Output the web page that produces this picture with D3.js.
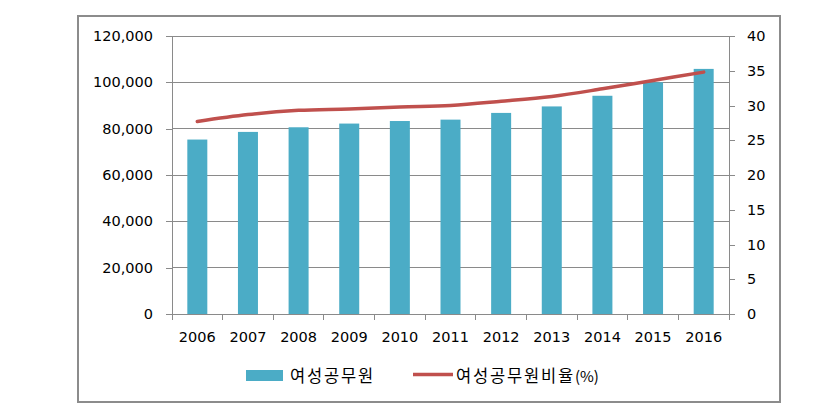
<!DOCTYPE html>
<html><head><meta charset="utf-8">
<script src="https://cdn.jsdelivr.net/npm/d3@7"></script>
<style>body{margin:0;background:#fff}svg{display:block}</style>
</head><body>
<svg id="c" width="837" height="408"></svg>
<script>
const years = ["2006","2007","2008","2009","2010","2011","2012","2013","2014","2015","2016"];
const counts = [75300, 78600, 80600, 82200, 83300, 83900, 86800, 89600, 94200, 100000, 105800];
const ratios = [27.7, 28.7, 29.3, 29.5, 29.8, 30.0, 30.6, 31.3, 32.4, 33.6, 34.8];
const leftTicks = [0, 20000, 40000, 60000, 80000, 100000, 120000];
const rightTicks = [0, 5, 10, 15, 20, 25, 30, 35, 40];
const barName = "여성공무원";
const lineName = "여성공무원비율(%)";

const svg = d3.select("#c");
const L = 172, R = 729, T = 36, B = 314;
const font = "'DejaVu Sans', Verdana, sans-serif";
const kfont = "'Noto Sans CJK KR', sans-serif";

svg.append("rect").attr("x",78).attr("y",16).attr("width",702).attr("height",386)
  .attr("fill","#fff").attr("stroke","#8c8c8c").attr("stroke-width",2);

const xb = d3.scaleBand().domain(years).range([L,R]);
const yL = d3.scaleLinear().domain([0,120000]).range([B,T]);
const yR = d3.scaleLinear().domain([0,40]).range([B,T]);

// gridlines
svg.append("g").selectAll("line").data(leftTicks.slice(1)).join("line")
  .attr("x1",L).attr("x2",R).attr("y1",d=>yL(d)).attr("y2",d=>yL(d))
  .attr("stroke","#8a8a8a").attr("stroke-width",1).attr("shape-rendering","crispEdges");

// bars
svg.append("g").selectAll("rect").data(years).join("rect")
  .attr("x",d=>xb(d)+xb.bandwidth()/2-10).attr("width",20)
  .attr("y",(d,i)=>yL(counts[i])).attr("height",(d,i)=>B-yL(counts[i]))
  .attr("fill","#4BACC6");

// left axis
const gl = svg.append("g").attr("transform",`translate(${L},0)`)
  .call(d3.axisLeft(yL).tickValues(leftTicks).tickFormat(d3.format(",")).tickSize(6).tickPadding(13));
// right axis
const gr = svg.append("g").attr("transform",`translate(${R},0)`)
  .call(d3.axisRight(yR).tickValues(rightTicks).tickSize(6).tickPadding(12));
// bottom axis
const gb = svg.append("g").attr("transform",`translate(0,${B})`)
  .call(d3.axisBottom(xb).tickSize(0).tickPadding(18));
gb.selectAll("line.bt").data(d3.range(years.length+1)).join("line").attr("class","bt")
  .attr("x1",i=>L+i*xb.step()).attr("x2",i=>L+i*xb.step()).attr("y1",0).attr("y2",6)
  .attr("stroke","#8a8a8a").attr("shape-rendering","crispEdges");

[gl,gr,gb].forEach(g=>{
  g.selectAll(".domain").attr("stroke","#8a8a8a").attr("shape-rendering","crispEdges");
  g.selectAll(".tick line").attr("stroke","#8a8a8a").attr("shape-rendering","crispEdges");
  g.selectAll("text").attr("font-family",font).attr("font-size","14.5px").attr("fill","#000");
});
gl.select(".domain").attr("d",`M0,${T}V${B}`);
gr.select(".domain").attr("d",`M0,${T}V${B}`);
gb.select(".domain").attr("d",`M${L},0H${R}`);

// line
const line = d3.line().x((d,i)=>xb(years[i])+xb.bandwidth()/2).y(d=>yR(d)).curve(d3.curveCatmullRom);
svg.append("path").datum(ratios).attr("d",line).attr("fill","none")
  .attr("stroke","#C0504D").attr("stroke-width",3.5).attr("stroke-linecap","round");

// legend
const lg = svg.append("g");
lg.append("rect").attr("x",246).attr("y",370).attr("width",37).attr("height",11).attr("fill","#4BACC6");
lg.append("text").attr("x",290).attr("y",382).text(barName)
  .attr("font-family",kfont).attr("font-size","16.5px").attr("letter-spacing","1.8px");
lg.append("line").attr("x1",413).attr("x2",453).attr("y1",374.5).attr("y2",374.5)
  .attr("stroke","#C0504D").attr("stroke-width",3.5);
const t2 = lg.append("text").attr("x",456).attr("y",382)
  .attr("font-family",kfont).attr("font-size","16.5px").attr("letter-spacing","1.8px");
t2.append("tspan").text(lineName.replace("(%)",""));
t2.append("tspan").text("(%)").attr("font-size","15px").attr("letter-spacing","0px");
</script>
</body></html>
